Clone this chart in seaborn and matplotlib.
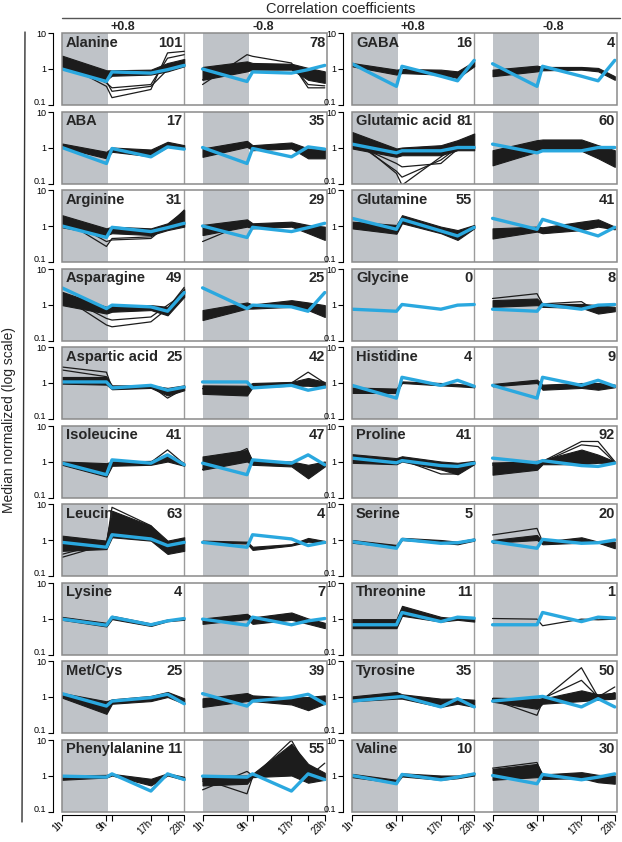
import matplotlib
matplotlib.use("Agg")
import matplotlib.pyplot as plt
import seaborn as sns
from matplotlib.patches import Rectangle
from matplotlib.lines import Line2D
from matplotlib.ticker import NullLocator
from matplotlib.transforms import ScaledTranslation

# ---------------- data ----------------
TIMES = [1, 9, 10, 17, 20, 23]
TIME_LABELS = ["1h", "9h", "", "17h", "", "23h"]
LEFT_NAMES = ["Alanine", "ABA", "Arginine", "Asparagine", "Aspartic acid",
              "Isoleucine", "Leucin", "Lysine", "Met/Cys", "Phenylalanine"]
RIGHT_NAMES = ["GABA", "Glutamic acid", "Glutamine", "Glycine", "Histidine",
               "Proline", "Serine", "Threonine", "Tyrosine", "Valine"]
CORR_LABELS = ["+0.8", "-0.8"]

N_POS = {"Alanine": 101, "ABA": 17, "Arginine": 31, "Asparagine": 49, "Aspartic acid": 25,
         "Isoleucine": 41, "Leucin": 63, "Lysine": 4, "Met/Cys": 25, "Phenylalanine": 11,
         "GABA": 16, "Glutamic acid": 81, "Glutamine": 55, "Glycine": 0, "Histidine": 4,
         "Proline": 41, "Serine": 5, "Threonine": 11, "Tyrosine": 35, "Valine": 10}
N_NEG = {"Alanine": 78, "ABA": 35, "Arginine": 29, "Asparagine": 25, "Aspartic acid": 42,
         "Isoleucine": 47, "Leucin": 4, "Lysine": 7, "Met/Cys": 39, "Phenylalanine": 55,
         "GABA": 4, "Glutamic acid": 60, "Glutamine": 41, "Glycine": 8, "Histidine": 9,
         "Proline": 92, "Serine": 20, "Threonine": 1, "Tyrosine": 50, "Valine": 30}

# metabolite profile (blue)
BLUE = {
    "Alanine": [1.0, 0.45, 0.83, 0.77, 0.96, 1.26],
    "ABA": [1.0, 0.36, 0.94, 0.55, 1.04, 0.90],
    "Arginine": [1.0, 0.48, 0.92, 0.70, 0.90, 1.19],
    "Asparagine": [2.9, 0.77, 0.96, 0.86, 0.65, 2.15],
    "Aspartic acid": [1.07, 1.07, 0.73, 0.86, 0.63, 0.77],
    "Isoleucine": [0.90, 0.43, 1.11, 0.90, 1.53, 0.81],
    "Leucin": [0.86, 0.63, 1.40, 1.07, 0.70, 0.86],
    "Lysine": [0.96, 0.65, 1.09, 0.67, 0.86, 1.0],
    "Met/Cys": [1.24, 0.56, 0.77, 0.96, 1.19, 0.65],
    "Phenylalanine": [0.96, 0.90, 1.11, 0.37, 1.11, 0.77],
    "GABA": [1.40, 0.33, 1.19, 0.63, 0.47, 1.74],
    "Glutamic acid": [1.24, 0.71, 0.81, 0.81, 1.0, 1.0],
    "Glutamine": [1.63, 0.81, 1.53, 0.73, 0.53, 0.92],
    "Glycine": [0.74, 0.65, 1.0, 0.74, 0.96, 1.0],
    "Histidine": [0.86, 0.38, 1.44, 0.86, 1.19, 0.81],
    "Proline": [1.24, 0.92, 1.06, 0.77, 0.73, 0.90],
    "Serine": [0.90, 0.59, 1.04, 0.81, 0.84, 1.0],
    "Threonine": [0.67, 0.67, 1.47, 0.82, 1.09, 1.02],
    "Tyrosine": [0.77, 1.0, 1.04, 0.53, 0.90, 0.53],
    "Valine": [1.0, 0.59, 1.07, 0.76, 0.90, 1.11],
}

# envelope of the positively correlated transcripts (+0.8)
POS_HI = {
    "Alanine": [2.35, 0.92, 0.92, 0.96, 1.47, 1.9],
    "ABA": [1.29, 0.76, 1.0, 0.88, 1.44, 1.16],
    "Arginine": [2.0, 0.86, 0.96, 0.86, 1.19, 2.78],
    "Asparagine": [2.25, 0.86, 0.96, 0.96, 0.86, 2.8],
    "Aspartic acid": [1.47, 1.47, 0.86, 0.86, 0.73, 0.86],
    "Isoleucine": [1.0, 0.90, 1.0, 1.04, 1.6, 0.90],
    "Leucin": [1.32, 0.96, 6.5, 2.5, 0.96, 1.19],
    "Lysine": [1.11, 0.76, 1.19, 0.73, 0.94, 1.0],
    "Met/Cys": [1.29, 0.76, 0.86, 1.07, 1.38, 0.92],
    "Phenylalanine": [1.0, 1.04, 1.11, 0.81, 1.15, 0.92],
    "GABA": [1.47, 0.96, 1.0, 0.96, 0.86, 1.63],
    "Glutamic acid": [2.7, 0.94, 1.0, 1.16, 1.6, 2.45],
    "Glutamine": [1.32, 1.07, 2.0, 0.96, 0.77, 1.07],
    "Histidine": [0.75, 0.70, 1.11, 1.0, 0.94, 0.86],
    "Proline": [1.6, 1.24, 1.4, 1.0, 0.92, 1.04],
    "Serine": [1.0, 0.73, 1.15, 1.0, 0.90, 1.10],
    "Threonine": [0.96, 0.96, 2.25, 1.11, 1.0, 1.0],
    "Tyrosine": [1.04, 1.38, 1.19, 0.90, 0.90, 0.84],
    "Valine": [1.11, 0.76, 1.15, 1.0, 1.0, 1.19],
}
POS_LO = {
    "Alanine": [1.0, 0.50, 0.65, 0.70, 0.86, 1.19],
    "ABA": [1.0, 0.50, 0.76, 0.57, 1.04, 0.94],
    "Arginine": [0.92, 0.56, 0.63, 0.56, 0.77, 0.96],
    "Asparagine": [0.96, 0.56, 0.63, 0.70, 0.50, 1.63],
    "Aspartic acid": [0.96, 0.90, 0.67, 0.73, 0.45, 0.63],
    "Isoleucine": [0.81, 0.38, 0.76, 0.81, 1.0, 0.76],
    "Leucin": [0.50, 0.56, 1.19, 0.96, 0.41, 0.50],
    "Lysine": [0.92, 0.60, 0.96, 0.62, 0.84, 0.92],
    "Met/Cys": [0.96, 0.34, 0.65, 0.77, 1.0, 0.65],
    "Phenylalanine": [0.76, 0.88, 1.0, 0.53, 1.0, 0.76],
    "GABA": [1.19, 0.70, 0.77, 0.70, 0.56, 1.19],
    "Glutamic acid": [0.94, 0.55, 0.61, 0.61, 0.84, 0.84],
    "Glutamine": [0.86, 0.61, 1.19, 0.63, 0.41, 0.86],
    "Histidine": [0.53, 0.53, 1.0, 0.86, 0.81, 0.76],
    "Proline": [0.92, 0.84, 1.0, 0.60, 0.44, 0.84],
    "Serine": [0.84, 0.63, 1.0, 0.84, 0.76, 0.96],
    "Threonine": [0.54, 0.54, 1.19, 0.82, 0.92, 0.82],
    "Tyrosine": [0.76, 0.90, 0.90, 0.53, 0.65, 0.53],
    "Valine": [0.90, 0.62, 0.94, 0.76, 0.84, 1.0],
}
POS_EXTRA = {
    "Alanine": [[1.47, 0.33, 0.16, 0.27, 2.8, 3.1], [1.6, 0.41, 0.30, 0.37, 2.0, 2.5],
                [1.3, 0.45, 0.24, 0.33, 0.96, 1.63]],
    "Arginine": [[1.53, 0.27, 0.45, 0.50, 0.96, 2.78], [1.8, 0.37, 0.41, 0.45, 1.07, 2.2]],
    "Asparagine": [[1.7, 0.27, 0.24, 0.33, 0.77, 3.0], [1.8, 0.41, 0.37, 0.45, 0.96, 2.0]],
    "Aspartic acid": [[2.78, 2.0, 0.73, 0.84, 0.38, 0.70], [2.3, 1.5, 0.75, 0.80, 0.50, 0.75]],
    "Isoleucine": [[0.95, 0.50, 0.90, 0.95, 2.1, 0.85]],
    "Leucin": [[0.33, 0.75, 8.1, 2.5, 0.75, 0.96], [0.40, 0.85, 5.3, 2.2, 0.55, 0.80]],
    "Glutamic acid": [[1.98, 0.19, 0.09, 0.55, 1.16, 1.98], [1.6, 0.22, 0.15, 0.45, 1.0, 1.6],
                      [1.3, 0.36, 0.29, 0.36, 0.90, 1.3]],
    "Proline": [[1.2, 1.0, 1.1, 0.45, 0.45, 0.9]],
}

# envelope of the negatively correlated transcripts (-0.8)
NEG_HI = {
    "Alanine": [1.14, 1.63, 1.47, 1.40, 1.07, 0.86],
    "ABA": [0.94, 1.53, 1.16, 1.38, 0.94, 0.86],
    "Arginine": [1.07, 1.53, 1.19, 1.32, 1.07, 0.96],
    "Asparagine": [0.70, 1.14, 1.0, 1.32, 1.14, 0.96],
    "Aspartic acid": [0.86, 0.84, 1.0, 1.07, 1.38, 1.07],
    "Isoleucine": [1.38, 2.1, 1.04, 1.0, 0.81, 1.0],
    "Leucin": [0.96, 0.90, 0.65, 0.77, 1.14, 0.94],
    "Lysine": [1.0, 1.35, 1.07, 1.47, 1.0, 0.76],
    "Met/Cys": [0.92, 1.29, 1.11, 0.96, 1.0, 1.11],
    "Phenylalanine": [1.0, 1.0, 1.11, 7.6, 2.1, 1.19],
    "GABA": [0.96, 1.24, 1.14, 1.14, 1.07, 0.63],
    "Glutamic acid": [0.84, 1.6, 1.67, 1.67, 1.16, 0.84],
    "Glutamine": [0.86, 0.96, 0.92, 1.32, 1.53, 0.96],
    "Glycine": [1.32, 1.47, 1.04, 1.04, 0.96, 0.86],
    "Histidine": [0.94, 1.24, 0.90, 1.0, 1.0, 0.90],
    "Proline": [0.92, 1.04, 1.11, 2.15, 1.55, 1.0],
    "Serine": [1.0, 1.38, 0.90, 1.19, 0.90, 0.90],
    "Tyrosine": [0.96, 0.90, 0.90, 1.53, 1.19, 1.32],
    "Valine": [1.53, 2.1, 1.07, 1.24, 1.04, 1.0],
}
NEG_LO = {
    "Alanine": [0.50, 0.86, 0.96, 0.96, 0.50, 0.41],
    "ABA": [0.55, 1.04, 0.84, 0.94, 0.50, 0.50],
    "Arginine": [0.56, 0.96, 0.86, 0.96, 0.63, 0.41],
    "Asparagine": [0.37, 0.77, 0.77, 0.86, 0.70, 0.45],
    "Aspartic acid": [0.50, 0.45, 0.76, 0.84, 0.84, 0.76],
    "Isoleucine": [0.59, 1.0, 0.81, 0.73, 0.34, 0.73],
    "Leucin": [0.86, 0.80, 0.53, 0.70, 0.90, 0.84],
    "Lysine": [0.71, 0.96, 0.71, 0.92, 0.71, 0.54],
    "Met/Cys": [0.53, 0.77, 0.77, 0.62, 0.43, 0.65],
    "Phenylalanine": [0.53, 0.59, 0.90, 1.0, 0.63, 0.76],
    "GABA": [0.63, 0.86, 0.92, 0.96, 0.86, 0.50],
    "Glutamic acid": [0.32, 0.76, 0.84, 0.81, 0.50, 0.29],
    "Glutamine": [0.45, 0.70, 0.63, 0.77, 0.96, 0.81],
    "Glycine": [0.86, 0.96, 0.86, 0.81, 0.56, 0.65],
    "Histidine": [0.81, 1.0, 0.65, 0.73, 0.65, 0.76],
    "Proline": [0.43, 0.59, 0.84, 0.84, 0.92, 0.92],
    "Serine": [0.84, 1.0, 0.76, 0.84, 0.84, 0.59],
    "Tyrosine": [0.74, 0.47, 0.65, 0.77, 0.84, 0.90],
    "Valine": [0.76, 0.90, 0.80, 0.84, 0.65, 0.59],
}
NEG_EXTRA = {
    "Alanine": [[0.37, 2.5, 2.25, 1.47, 0.30, 0.30], [0.50, 1.19, 1.14, 1.30, 0.37, 0.34]],
    "Arginine": [[0.37, 1.2, 1.0, 1.1, 0.90, 0.80]],
    "Aspartic acid": [[0.70, 0.60, 0.90, 1.0, 2.0, 1.0]],
    "Isoleucine": [[0.60, 2.3, 1.0, 0.90, 0.38, 0.80]],
    "Phenylalanine": [[0.40, 1.3, 1.0, 5.0, 1.1, 0.90], [0.80, 0.31, 0.90, 9.5, 1.5, 1.0],
                      [0.70, 0.80, 0.90, 3.0, 0.90, 2.2]],
    "Glycine": [[1.47, 2.0, 1.04, 1.2, 0.60, 0.70]],
    "Proline": [[0.90, 0.90, 1.0, 3.6, 3.6, 1.0], [0.80, 0.80, 0.95, 2.9, 2.6, 0.95]],
    "Serine": [[1.38, 2.1, 0.90, 1.0, 0.84, 0.65]],
    "Threonine": [[1.0, 0.96, 0.63, 0.96, 0.92, 0.96]],
    "Tyrosine": [[0.90, 0.77, 0.84, 6.5, 1.0, 1.3], [0.84, 0.31, 0.74, 0.80, 0.90, 1.3],
                 [0.88, 0.80, 0.90, 2.9, 1.0, 1.9]],
    "Valine": [[1.6, 2.3, 1.0, 1.1, 0.90, 0.85]],
}

# ---------------- style / layout ----------------
sns.set_theme(style="ticks")
plt.rcParams["font.family"] = ["Liberation Sans", "DejaVu Sans"]

W, H = 622, 842
OFF = 25.3                    # x offset (h) of the -0.8 block inside one panel
XMAX = 23 + OFF + 0.4
GROUP_X = [62, 352]
GROUP_W = 265
ROW_TOP0 = 33
ROW_PITCH = 78.5
ROW_H = 72
BLUE_C = "#2aa8df"
BLACK_C = "#1c1c1c"
SHADE_C = "#bfc3c8"
FRAME_C = "#8a8a8a"

fig = plt.figure(figsize=(W / 100, H / 100), dpi=100)


def draw_set(ax, offset, hi, lo, extra, blue):
    xs = [t + offset for t in TIMES]
    if hi is not None:
        ax.fill_between(xs, lo, hi, color=BLACK_C, lw=0.8, zorder=2)
    for line in extra:
        sns.lineplot(x=xs, y=line, ax=ax, color=BLACK_C, lw=0.9, zorder=3)
    sns.lineplot(x=xs, y=blue, ax=ax, color=BLUE_C, lw=2.4, zorder=4)


for g, names in enumerate([LEFT_NAMES, RIGHT_NAMES]):
    for i, name in enumerate(names):
        top = ROW_TOP0 + i * ROW_PITCH
        ax = fig.add_axes([GROUP_X[g] / W, 1 - (top + ROW_H) / H, GROUP_W / W, ROW_H / H])
        ax.set_yscale("log")
        ax.set_ylim(0.1, 10)
        ax.set_xlim(1, XMAX)
        ax.set_facecolor("white")
        for off in (0, OFF):
            ax.axvspan(1 + off, 9.35 + off, color=SHADE_C, lw=0, zorder=0)
        ax.axvline(23, color="#9c9c9c", lw=1.0, zorder=1)

        draw_set(ax, 0, POS_HI.get(name), POS_LO.get(name), POS_EXTRA.get(name, []), BLUE[name])
        draw_set(ax, OFF, NEG_HI.get(name), NEG_LO.get(name), NEG_EXTRA.get(name, []), BLUE[name])
        ax.set_xlim(1, XMAX)
        ax.set_ylim(0.1, 10)
        ax.set_xlabel("")
        ax.set_ylabel("")

        ax.add_patch(Rectangle((0, 0), 1, 1, transform=ax.transAxes, fill=False,
                               ec=FRAME_C, lw=1.1, zorder=6, clip_on=False))
        for s in ("top", "right", "bottom"):
            ax.spines[s].set_visible(False)
        ax.spines["left"].set_position(("outward", 6.5))
        ax.spines["left"].set_color("black")
        ax.spines["left"].set_linewidth(0.8)
        ax.set_yticks([0.1, 1, 10])
        ax.set_yticklabels(["0.1", "1", "10"])
        ax.yaxis.set_minor_locator(NullLocator())
        ax.tick_params(axis="y", length=3.5, width=0.8, labelsize=6.5, pad=1.5,
                       colors="black")
        ylabs = ax.get_yticklabels()
        ylabs[0].set_va("bottom")
        ylabs[0].set_transform(ylabs[0].get_transform() +
                               ScaledTranslation(0, -1.5 / 72, fig.dpi_scale_trans))
        ylabs[2].set_va("top")
        ylabs[2].set_transform(ylabs[2].get_transform() +
                               ScaledTranslation(0, 2.0 / 72, fig.dpi_scale_trans))

        if i == len(names) - 1:
            ticks = TIMES + [t + OFF for t in TIMES]
            ax.set_xticks(ticks)
            ax.set_xticklabels(TIME_LABELS + TIME_LABELS)
            ax.spines["bottom"].set_position(("outward", 2.5))
            ax.spines["bottom"].set_visible(False)
            ax.tick_params(axis="x", length=4, width=0.8, labelsize=7, pad=1.0,
                           bottom=True, colors="black", labelrotation=45)
            for lab in ax.get_xticklabels():
                lab.set_ha("right")
                lab.set_va("center")
                lab.set_rotation_mode("anchor")
            yb = -(2.5 * 100 / 72) / ROW_H
            for off in (0, OFF):
                ax.plot([1 + off, 23 + off], [yb, yb], color="black", lw=0.8,
                        transform=ax.get_xaxis_transform(), clip_on=False)
        else:
            ax.set_xticks([])

        txt_kw = dict(fontsize=10.5, fontweight="bold", va="top", zorder=7)
        ax.text(0.015, 0.965, name, transform=ax.transAxes, ha="left", **txt_kw)
        ax.text(23 - 0.35, 0.965, str(N_POS[name]), transform=ax.get_xaxis_transform(),
                ha="right", **txt_kw)
        ax.text(0.993, 0.965, str(N_NEG[name]), transform=ax.transAxes,
                ha="right", **txt_kw)

# header
fig.text(341 / W, 1 - 9 / H, "Correlation coefficients", ha="center", va="center",
         fontsize=10.5)
fig.add_artist(Line2D([62 / W, 620 / W], [1 - 18 / H, 1 - 18 / H], color="#555555", lw=1))
px_per_h = GROUP_W / (XMAX - 1)
for g in range(2):
    for k, off in enumerate((0, OFF)):
        xc = GROUP_X[g] + (12 + off - 1) * px_per_h
        fig.text(xc / W, 1 - 27 / H, CORR_LABELS[k], ha="center", va="center",
                 fontsize=9, fontweight="bold")

# outer y label and bracket line
fig.add_artist(Line2D([25 / W, 22 / W], [1 - 32 / H, 1 - 822 / H], color="#333333", lw=1))
fig.text(9 / W, 1 - 420 / H, "Median normalized (log scale)", rotation=90,
         ha="center", va="center", fontsize=10)

fig.savefig("out.png", dpi=100)
